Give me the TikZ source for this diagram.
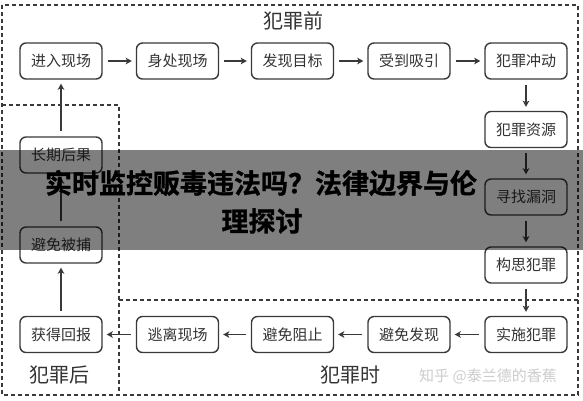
\documentclass[tikz,border=0pt]{standalone}
\usepackage{fontspec}
\newfontfamily\cjk{Noto Sans CJK SC}
\newfontfamily\cjkh[FakeBold=1.2]{Noto Sans CJK SC Bold}
\usetikzlibrary{arrows.meta}
\definecolor{boxc}{HTML}{3A3A3A}
\definecolor{txtc}{HTML}{333333}
\definecolor{wmc}{HTML}{CCCCCC}
\begin{document}
\begin{tikzpicture}[x=1pt,y=-1pt,
  box/.style={draw=boxc, line width=1.4pt, rounded corners=6pt, fill=white,
    minimum width=82pt, minimum height=36pt, inner sep=0pt,
    font=\cjk\fontsize{15}{15}\selectfont, text=txtc},
  arr/.style={draw=boxc, line width=1.5pt, -{Stealth[length=6pt,width=6.5pt,inset=1.5pt]},
    shorten >=4pt, shorten <=5pt},
  frame/.style={draw=boxc, line width=1.5pt, dash pattern=on 4pt off 3pt},
  sec/.style={font=\cjk\fontsize{20}{20}\selectfont, text=txtc, inner sep=0pt},
  title/.style={font=\cjkh\fontsize{27}{27}\selectfont, text=black, inner sep=0pt}]
\useasboundingbox (0,0) rectangle (583,400);
\fill[white] (0,0) rectangle (583,400);
% frames
\draw[frame] (2,5) rectangle (578,395);
\draw[frame] (2,105) -- (119,105) -- (119,395);
\draw[frame] (119,300) -- (578,300);
% boxes
\node[box] (n1) at (61,61) {进入现场};
\node[box] (n2) at (177.5,61) {身处现场};
\node[box] (n3) at (292.5,61) {发现目标};
\node[box] (n4) at (409,61) {受到吸引};
\node[box] (n5) at (526,61) {犯罪冲动};
\node[box] (r1) at (526,129.5) {犯罪资源};
\node[box] (r2) at (526,197) {寻找漏洞};
\node[box] (r3) at (526,265) {构思犯罪};
\node[box] (b5) at (526,334.5) {实施犯罪};
\node[box] (b4) at (409,334.5) {避免发现};
\node[box] (b3) at (292.5,334.5) {避免阻止};
\node[box] (b2) at (177.5,334.5) {逃离现场};
\node[box] (b1) at (61,334.5) {获得回报};
\node[box] (l2) at (61,245) {避免被捕};
\node[box] (l1) at (61,155) {长期后果};
% arrows
\draw[arr] (n1) -- (n2);
\draw[arr] (n2) -- (n3);
\draw[arr] (n3) -- (n4);
\draw[arr] (n4) -- (n5);
\draw[arr] (n5) -- (r1);
\draw[arr] (r1) -- (r2);
\draw[arr] (r2) -- (r3);
\draw[arr] (r3) -- (b5);
\draw[arr] (b5) -- (b4);
\draw[arr] (b4) -- (b3);
\draw[arr] (b3) -- (b2);
\draw[arr] (b2) -- (b1);
\draw[arr] (b1) -- (l2);
\draw[arr] (l2) -- (l1);
\draw[arr] (l1) -- (n1);
% section labels
\node[sec] (t1) at (293,21) {犯罪前};
\node[sec] (t2) at (59,375) {犯罪后};
\node[sec] (t3) at (350,375) {犯罪时};
\node[font=\cjk\fontsize{15}{15}\selectfont, text=wmc, inner sep=0pt] (wm) at (488,376) {知乎 @泰兰德的香蕉};
% banner
\fill[black, opacity=0.5] (0,150) rectangle (583,250);
\node[title] (h1) at (261,183) {实时监控贩毒违法吗？法律边界与伦};
\node[title] (h2) at (262,221) {理探讨};
\end{tikzpicture}
\end{document}
